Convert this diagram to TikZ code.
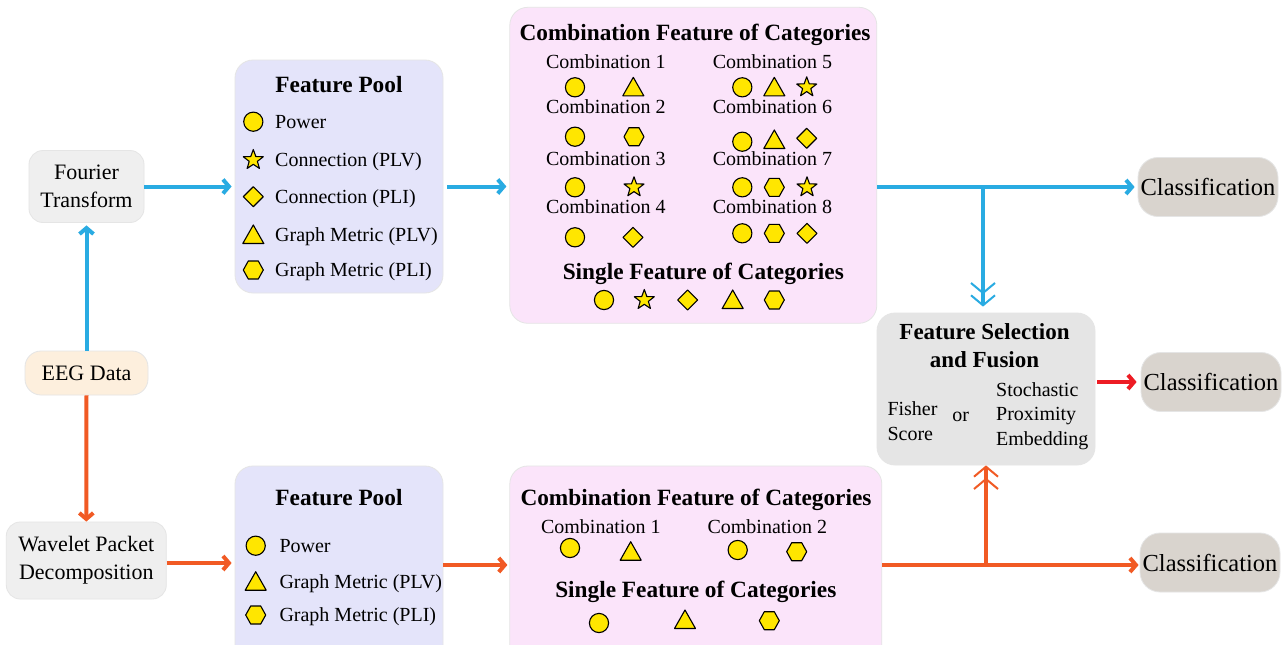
\documentclass[tikz,border=0pt]{standalone}
\usepackage{fontspec}
\setmainfont{Liberation Serif}
\usetikzlibrary{arrows.meta}
\definecolor{cblue}{RGB}{41,171,226}
\definecolor{corange}{RGB}{241,90,36}
\definecolor{cred}{RGB}{237,28,36}
\definecolor{symy}{RGB}{255,230,0}
\definecolor{grayA}{RGB}{239,239,239}
\definecolor{peach}{RGB}{253,239,221}
\definecolor{lav}{RGB}{228,228,250}
\definecolor{pinkc}{RGB}{251,228,250}
\definecolor{fsg}{RGB}{229,229,229}
\definecolor{clsg}{RGB}{217,212,206}
\newcommand\fsz[2]{\fontsize{#1}{#2}\selectfont}
\begin{document}
\begin{tikzpicture}[x=1pt,y=-1pt,
  box/.style={draw=black!10, line width=0.8pt, rounded corners=14pt, inner sep=0pt, align=center},
  srcbox/.style={box, fill=grayA, font=\fsz{22}{28}},
  panel/.style={box, rounded corners=18pt},
  cls/.style={box, fill=clsg, rounded corners=20pt, minimum width=140pt, minimum height=59pt, font=\fsz{24.5}{30}},
  ttl/.style={font=\fsz{23.3}{28}\bfseries, inner sep=0pt, text height=15pt, text depth=0pt},
  lbl/.style={font=\fsz{20}{24}, inner sep=0pt, text height=13pt, text depth=0pt},
  item/.style={lbl, anchor=west},
  sym/.style={draw=black, fill=symy, line width=1.1pt, line join=round},
  bar/.style={line width=4pt, -{Straight Barb[length=6pt,width=14pt]}},
  dbl/.style={line width=4pt, -{Straight Barb[length=10pt,width=24pt,line width=2pt] Straight Barb[length=10pt,width=24pt,line width=2pt]}},
  pcirc/.pic={\path[sym] (0,0) circle (9.6);},
  ptri/.pic={\path[sym] (0,-10) -- (10.5,8.5) -- (-10.5,8.5) -- cycle;},
  pdia/.pic={\path[sym] (-10,0) -- (0,-10) -- (10,0) -- (0,10) -- cycle;},
  phex/.pic={\path[sym] (-10,0) -- (-5,-9) -- (5,-9) -- (10,0) -- (5,9) -- (-5,9) -- cycle;},
  pstar/.pic={\path[sym] (0,-10.5) -- (-2.53,-3.48) -- (-9.99,-3.24) -- (-4.09,1.33) -- (-6.17,8.49) -- (0,4.3) -- (6.17,8.49) -- (4.09,1.33) -- (9.99,-3.24) -- (2.53,-3.48) -- cycle;}
]
\useasboundingbox (0,0) rectangle (1283,645);
\clip (0,0) rectangle (1283,645);
\fill[white] (0,0) rectangle (1283,645);

% source boxes
\node[srcbox, minimum width=115pt, minimum height=72pt] (ft) at (86.5,186.5) {Fourier\\Transform};
\node[srcbox, fill=peach, minimum width=123pt, minimum height=44pt, rounded corners=16pt] (eeg) at (86.5,373) {EEG Data};
\node[srcbox, minimum width=160pt, minimum height=77pt] (wpd) at (86.3,560.5) {Wavelet Packet\\Decomposition};

% panels
\node[panel, fill=lav, minimum width=208pt, minimum height=233pt] (p1) at (339,176.5) {};
\node[panel, fill=pinkc, minimum width=367pt, minimum height=316pt] (cb1) at (693.3,165.3) {};
\node[panel, fill=lav, minimum width=208pt, minimum height=200pt] (p2) at (339,566) {};
\node[panel, fill=pinkc, minimum width=372pt, minimum height=200pt] (cb2) at (695.8,566) {};
\node[panel, fill=fsg, minimum width=218pt, minimum height=152pt] (fs) at (986,389) {};
\node[cls] (c1) at (1208,187) {Classification};
\node[cls] (c2) at (1211,382) {Classification};
\node[cls] (c3) at (1210,562.5) {Classification};

% feature pool 1
\node[ttl] (p1t) at (339,85) {Feature Pool};
\pic at (253.3,121.7) {pcirc}; \node[item] (p1a) at (275,121.7) {Power};
\pic at (253.3,160) {pstar}; \node[item] (p1b) at (275,160) {Connection (PLV)};
\pic at (253.3,196.7) {pdia}; \node[item] (p1c) at (275,196.7) {Connection (PLI)};
\pic at (253.3,235) {ptri}; \node[item] (p1d) at (275,235) {Graph Metric (PLV)};
\pic at (253.3,270) {phex}; \node[item] (p1e) at (275,270) {Graph Metric (PLI)};

% combination 1
\node[ttl] (cb1t) at (695,33) {Combination Feature of Categories};
\node[lbl] (k1) at (605.8,61.7) {Combination 1};
\node[lbl] (k5) at (772.5,61.7) {Combination 5};
\node[lbl] (k2) at (605.8,107.3) {Combination 2};
\node[lbl] (k6) at (772.5,107.3) {Combination 6};
\node[lbl] (k3) at (605.8,159.3) {Combination 3};
\node[lbl] (k7) at (772.5,159.3) {Combination 7};
\node[lbl] (k4) at (605.8,207.3) {Combination 4};
\node[lbl] (k8) at (772.5,207.3) {Combination 8};
\pic at (575,87.3) {pcirc}; \pic at (633.3,87.3) {ptri};
\pic at (742.3,87.3) {pcirc}; \pic at (774.3,87.3) {ptri}; \pic at (806.7,87.3) {pstar};
\pic at (575,136.7) {pcirc}; \pic at (634,136.7) {phex};
\pic at (742.3,141.7) {pcirc}; \pic at (774.3,140) {ptri}; \pic at (806.7,138.3) {pdia};
\pic at (575,187.3) {pcirc}; \pic at (634,187.3) {pstar};
\pic at (742.3,187.3) {pcirc}; \pic at (774.3,187.3) {phex}; \pic at (807,187.3) {pstar};
\pic at (575,237.3) {pcirc}; \pic at (633,237.3) {pdia};
\pic at (742.3,233.3) {pcirc}; \pic at (774.3,233.3) {phex}; \pic at (807,233.3) {pdia};
\node[ttl] (s1t) at (703.3,271.7) {Single Feature of Categories};
\pic at (604,300) {pcirc}; \pic at (644.3,300) {pstar}; \pic at (687.7,300) {pdia};
\pic at (732.7,300) {ptri}; \pic at (774.3,300) {phex};

% feature pool 2
\node[ttl] (p2t) at (339,498) {Feature Pool};
\pic at (255.7,545.7) {pcirc}; \node[item] (p2a) at (279.3,545.7) {Power};
\pic at (255.7,581.7) {ptri}; \node[item] (p2b) at (279.3,581.7) {Graph Metric (PLV)};
\pic at (255.7,615) {phex}; \node[item] (p2c) at (279.3,615) {Graph Metric (PLI)};

% combination 2
\node[ttl] (cb2t) at (696,498.3) {Combination Feature of Categories};
\node[lbl] (m1) at (600.8,526.7) {Combination 1};
\node[lbl] (m2) at (767.3,526.7) {Combination 2};
\pic at (570,548) {pcirc}; \pic at (630.7,551.7) {ptri};
\pic at (737.7,550) {pcirc}; \pic at (796.7,551.7) {phex};
\node[ttl] (s2t) at (695.8,590) {Single Feature of Categories};
\pic at (599,623) {pcirc}; \pic at (685,620) {ptri}; \pic at (769.3,620.7) {phex};

% feature selection
\node[font=\fsz{23}{28}\bfseries, align=center, inner sep=0pt] (fst) at (984.5,345.8) {Feature Selection\\and Fusion};
\node[font=\fsz{20}{25}, align=left, inner sep=0pt, anchor=west] (fish) at (887.3,420.7) {Fisher\\Score};
\node[lbl] (or) at (960.7,414.7) {or};
\node[font=\fsz{20}{24.2}, align=left, inner sep=0pt, anchor=west] (spe) at (996,416.2) {Stochastic\\Proximity\\Embedding};

% connectors
\draw[bar, cblue, shorten >=2.5pt] (eeg.north) -- (ft.south);
\draw[bar, corange] (eeg.south) -- (wpd.north);
\draw[bar, cblue, shorten >=3pt] (ft.east) -- (ft.east -| p1.west);
\draw[bar, cblue, shorten <=4pt, shorten >=3pt] (p1.east |- ft.east) -- (cb1.west |- ft.east);
\draw[bar, cblue, shorten >=3pt] (cb1.east |- c1.west) -- (c1.west);
\coordinate (j1) at (983,187);
\draw[dbl, cblue, shorten >=6pt] (j1) -- (j1 |- fs.north);
\draw[bar, cred, shorten <=2pt, shorten >=4pt] (fs.east |- c2.west) -- (c2.west);
\coordinate (w1) at ([yshift=-2.5pt]wpd.east);
\draw[bar, corange, shorten >=3pt] (w1) -- (w1 -| p2.west);
\coordinate (j2) at (986,565);
\draw[bar, corange, shorten >=2pt] (p2.east |- j2) -- (cb2.west |- j2);
\draw[bar, corange, shorten >=1pt] (cb2.east |- j2) -- (j2 -| c3.west);
\draw[dbl, corange] (j2) -- (j2 |- fs.south);
\end{tikzpicture}
\end{document}
